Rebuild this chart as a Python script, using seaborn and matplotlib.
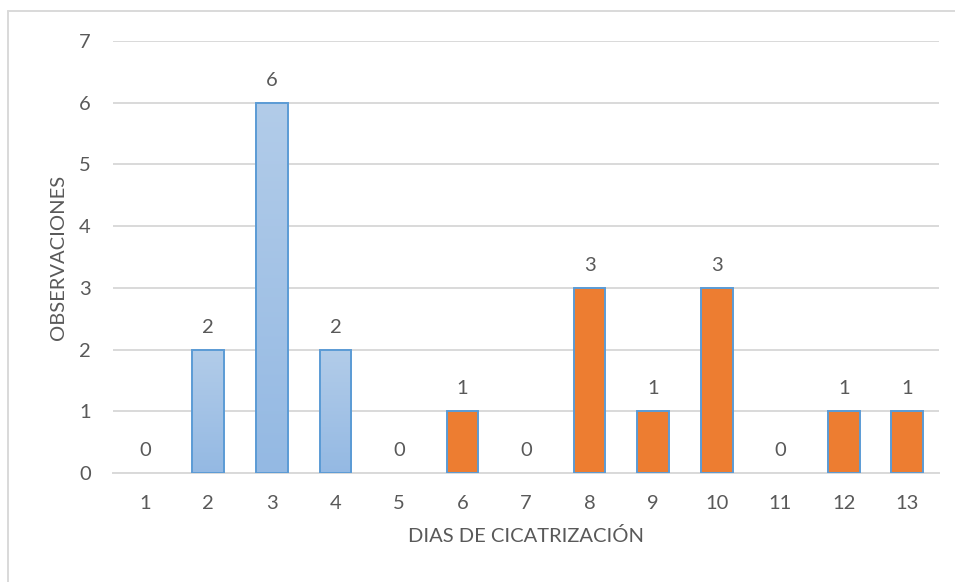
import numpy as np
import pandas as pd
import matplotlib
matplotlib.use("Agg")
import matplotlib.pyplot as plt
from matplotlib.lines import Line2D
import seaborn as sns

# Healing-time counts per day
dias = ["1", "2", "3", "4", "5", "6", "7", "8", "9", "10", "11", "12", "13"]
observaciones = [0, 2, 6, 2, 0, 1, 0, 3, 1, 3, 0, 1, 1]
grupo = ["A", "A", "A", "A", "B", "B", "B", "B", "B", "B", "B", "B", "B"]

df = pd.DataFrame({"dias": dias, "obs": observaciones, "grupo": grupo})

TEXT = "#595959"
GRID = "#d9d9d9"
EDGE = "#5b9bd5"
FS = 14.5

sns.set_theme(style="white")
plt.rcParams["font.family"] = ["Lato", "DejaVu Sans"]

fig = plt.figure(figsize=(9.55, 5.82), dpi=100)
ax = fig.add_axes([113 / 955, 1 - 473 / 582, 826 / 955, 432 / 582])

sns.barplot(data=df, x="dias", y="obs", hue="grupo", dodge=False,
            palette={"A": "#a3c1e6", "B": "#ed7d31"}, saturation=1,
            width=0.5, edgecolor=EDGE, linewidth=1.4, legend=False,
            ax=ax, zorder=3)

# vertical gradient fill for the first group
grad = np.linspace(0, 1, 256).reshape(-1, 1)
cmap = matplotlib.colors.LinearSegmentedColormap.from_list(
    "g", ["#94b9e3", "#b2cce9"])
for p in ax.patches:
    if p.get_height() == 0:
        p.set_linewidth(0)
        continue
    x0, y0 = p.get_x(), p.get_y()
    xc = x0 + p.get_width() / 2
    idx = int(round(xc))
    if 0 <= idx < len(grupo) and grupo[idx] == "A":
        w, h = p.get_width(), p.get_height()
        im = ax.imshow(grad, cmap=cmap, aspect="auto", origin="lower",
                       extent=(x0, x0 + w, y0, y0 + h), zorder=2.5,
                       interpolation="bilinear")
        im.set_clip_path(p)
        p.set_facecolor("none")

for c in ax.containers:
    ax.bar_label(c, fmt="%g", padding=10, color=TEXT, fontsize=FS)

ax.set_xlim(-0.5, len(dias) - 0.5)
ax.set_ylim(0, 7)
ax.set_yticks(range(0, 8))
ax.yaxis.grid(True, color=GRID, linewidth=1.4, zorder=0)
ax.set_axisbelow(True)
for s in ["top", "right", "left"]:
    ax.spines[s].set_visible(False)
ax.spines["bottom"].set_color(GRID)
ax.spines["bottom"].set_linewidth(1.4)
ax.tick_params(axis="both", length=0, colors=TEXT, labelsize=FS)
ax.tick_params(axis="y", pad=16)
ax.tick_params(axis="x", pad=16)

ax.set_xlabel("DIAS DE CICATRIZACIÓN", color=TEXT, fontsize=FS, labelpad=11)
ax.set_ylabel("OBSERVACIONES", color=TEXT, fontsize=FS)
ax.yaxis.set_label_coords((67 - 113) / 826, 0.5)

# chart frame
fig.add_artist(Line2D([8 / 955, 1.0], [1 - 11 / 582, 1 - 11 / 582],
                      transform=fig.transFigure, color=GRID, linewidth=1.4))
fig.add_artist(Line2D([8 / 955, 8 / 955], [0.0, 1 - 11 / 582],
                      transform=fig.transFigure, color=GRID, linewidth=1.4))

fig.savefig("out.png", dpi=100, facecolor="white")
